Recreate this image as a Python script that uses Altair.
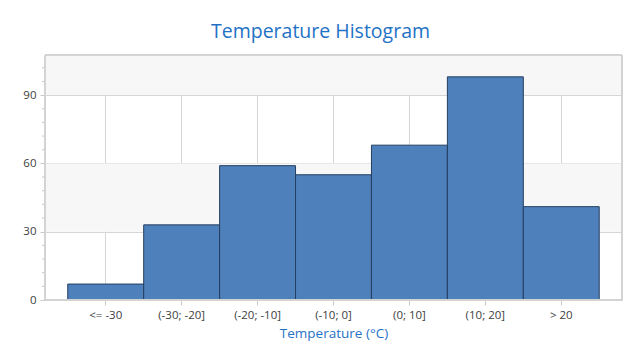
import altair as alt
import pandas as pd

categories = ["<= -30", "(-30; -20]", "(-20; -10]", "(-10; 0]", "(0; 10]", "(10; 20]", "> 20"]
counts = [7, 33, 59, 55, 68, 98, 41]
band_start = [30, 90]
band_end = [60, 107.6]
minor_ticks = [v for v in range(6, 108, 6) if v % 30 != 0]
major_ticks = [0, 30, 60, 90]

df = pd.DataFrame({"cat": categories, "count": counts})
bands = pd.DataFrame({"y0": band_start, "y1": band_end})
minor = pd.DataFrame({"v": minor_ticks})

FONT = "Segoe UI, Open Sans"
LABEL_COLOR = "#404040"
BLUE = "#1f72c6"
GRID = "#d6d6d6"
TICK = "#c8c8c8"

yscale = alt.Scale(domain=[0, 107.6], nice=False, zero=True)
xscale = alt.Scale(domain=categories, paddingInner=0, paddingOuter=0.3)

yaxis = alt.Axis(values=major_ticks, title=None, grid=True, gridColor=GRID,
                 tickColor=TICK, tickSize=5, domainColor=TICK,
                 labelColor=LABEL_COLOR, labelFont=FONT, labelFontSize=11.5,
                 labelPadding=4)

band_layer = alt.Chart(bands).mark_rect(color="#f7f7f7").encode(
    y=alt.Y("y0:Q", scale=yscale, axis=yaxis, title=None),
    y2="y1:Q",
)

minor_layer = alt.Chart(minor).mark_rule(color=TICK, strokeWidth=1).encode(
    y=alt.Y("v:Q", scale=yscale, axis=yaxis, title=None),
    x=alt.value(-3),
    x2=alt.value(0),
)

bars = alt.Chart(df).mark_bar(color="#4e80bc", stroke="#243e5f", strokeWidth=1).encode(
    x=alt.X("cat:N", sort=categories, scale=xscale,
            axis=alt.Axis(title="Temperature (°C)", labelAngle=0, bandPosition=0.5,
                          grid=True, gridColor=GRID, tickColor=TICK, tickSize=5,
                          domainColor=TICK, labelColor=LABEL_COLOR, labelFont=FONT,
                          labelFontSize=11.5, labelPadding=4, titleColor=BLUE, titleFont=FONT,
                          titleFontSize=13.5, titleFontWeight="normal", titlePadding=6)),
    y=alt.Y("count:Q", scale=yscale, axis=yaxis, title=None),
)

frame = alt.Chart(df).mark_rect(fill=None, stroke="#d3d3d3", strokeWidth=1).encode(
    x=alt.value(0), x2=alt.value(577), y=alt.value(0), y2=alt.value(245),
)

chart = alt.layer(band_layer, minor_layer, bars, frame).properties(
    width=577,
    height=245,
    autosize=alt.AutoSizeParams(type="none"),
    padding={"left": 37, "top": 47, "right": 10, "bottom": 52},
    title=alt.TitleParams("Temperature Histogram", font=FONT, fontSize=19.5,
                          fontWeight="normal", color=BLUE, anchor="middle",
                          offset=12, dx=-13),
).configure(background="white").configure_view(stroke="#d3d3d3", strokeWidth=1)

chart.save("out.html", embed_options={"renderer": "svg", "actions": False})
